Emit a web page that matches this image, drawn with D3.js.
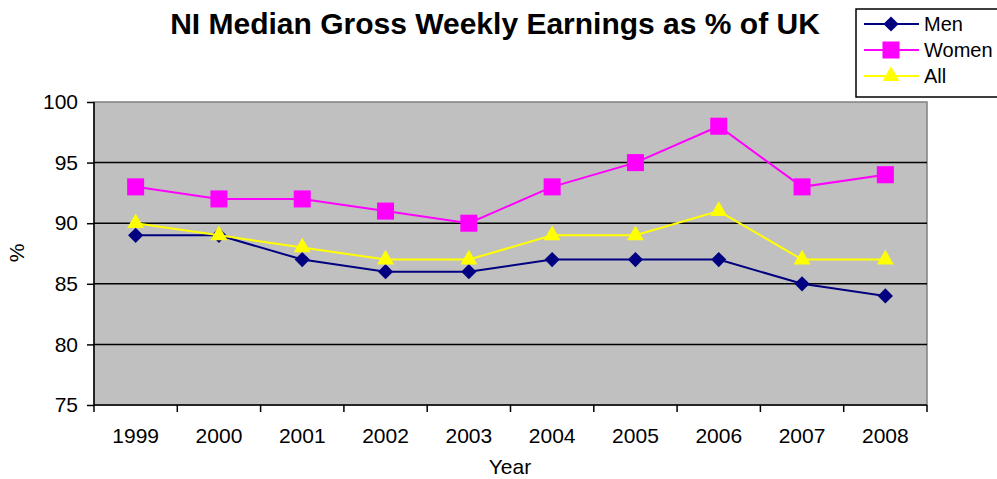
<!DOCTYPE html>
<html>
<head>
<meta charset="utf-8">
<script src="https://cdnjs.cloudflare.com/ajax/libs/d3/7.8.5/d3.min.js"></script>
<style>
  body { margin: 0; background: #fff; }
  text { font-family: "Liberation Sans", Arial, sans-serif; }
</style>
</head>
<body>
<script>
// chart data
let years = ["1999", "2000", "2001", "2002", "2003", "2004", "2005", "2006", "2007", "2008"];
let men = [89, 89, 87, 86, 86, 87, 87, 87, 85, 84];
let women = [93, 92, 92, 91, 90, 93, 95, 98, 93, 94];
let all = [90, 89, 88, 87, 87, 89, 89, 91, 87, 87];
let yTicks = [75, 80, 85, 90, 95, 100];

let width = 997, height = 479;
let plot = {left: 94, top: 102, right: 927, bottom: 405};

let svg = d3.select("body").append("svg")
    .attr("width", width)
    .attr("height", height);

let x = d3.scaleBand()
    .domain(years)
    .range([plot.left, plot.right]);

let y = d3.scaleLinear()
    .domain([75, 100])
    .range([plot.bottom, plot.top]);

// plot background
svg.append("rect")
    .attr("x", plot.left).attr("y", plot.top)
    .attr("width", plot.right - plot.left)
    .attr("height", plot.bottom - plot.top)
    .attr("fill", "#c0c0c0")
    .attr("stroke", "#808080")
    .attr("stroke-width", 1.5);

// gridlines
svg.selectAll(".grid")
    .data(yTicks.slice(1, -1))
    .enter().append("line")
    .attr("x1", plot.left).attr("x2", plot.right)
    .attr("y1", d => y(d)).attr("y2", d => y(d))
    .attr("stroke", "#000").attr("stroke-width", 1.5);

// y axis
let yAxis = svg.append("g")
    .attr("transform", "translate(" + plot.left + ",0)")
    .call(d3.axisLeft(y).tickValues(yTicks).tickSize(7).tickPadding(9));

// x axis (ticks on category boundaries)
let xAxis = svg.append("g")
    .attr("transform", "translate(0," + plot.bottom + ")")
    .call(d3.axisBottom(x).tickSize(0).tickPadding(23));

let bounds = years.map(d => x(d)).concat([plot.right]);
xAxis.selectAll(".bound")
    .data(bounds)
    .enter().append("line")
    .attr("x1", d => d).attr("x2", d => d)
    .attr("y1", 0).attr("y2", 7)
    .attr("stroke", "#000").attr("stroke-width", 1.5);

[yAxis, xAxis].forEach(g => {
    g.select(".domain").attr("stroke", "#000").attr("stroke-width", 1.5);
    g.selectAll(".tick line").attr("stroke", "#000").attr("stroke-width", 1.5);
    g.selectAll("text")
        .attr("font-family", "Liberation Sans, Arial, sans-serif")
        .attr("font-size", 21)
        .attr("fill", "#000");
});
yAxis.select(".domain").attr("d", "M0," + plot.top + "V" + plot.bottom);
xAxis.select(".domain").attr("d", "M" + plot.left + ",0H" + plot.right);

// series
let series = [
    {name: "Men", values: men, color: "#000080", shape: d3.symbolSquare, size: 115, rot: 45},
    {name: "Women", values: women, color: "#ff00ff", shape: d3.symbolSquare, size: 290, rot: 0},
    {name: "All", values: all, color: "#ffff00", shape: d3.symbolTriangle, size: 125, rot: 0}
];

let line = d3.line()
    .x((d, i) => x(years[i]) + x.bandwidth() / 2)
    .y(d => y(d));

series.forEach(s => {
    svg.append("path")
        .datum(s.values)
        .attr("fill", "none")
        .attr("stroke", s.color)
        .attr("stroke-width", 2)
        .attr("d", line);

    svg.selectAll(".m" + s.name)
        .data(s.values)
        .enter().append("path")
        .attr("transform", (d, i) => "translate(" + (x(years[i]) + x.bandwidth() / 2) + "," + y(d) + ") rotate(" + s.rot + ")")
        .attr("d", d3.symbol().type(s.shape).size(s.size))
        .attr("fill", s.color);
});

// title
svg.append("text")
    .attr("x", 495).attr("y", 34)
    .attr("text-anchor", "middle")
    .attr("font-size", 30)
    .attr("font-weight", "bold")
    .text("NI Median Gross Weekly Earnings as % of UK");

// axis titles
svg.append("text")
    .attr("x", 510).attr("y", 474)
    .attr("text-anchor", "middle")
    .attr("font-size", 21)
    .text("Year");

svg.append("text")
    .attr("transform", "translate(24,253) rotate(-90)")
    .attr("text-anchor", "middle")
    .attr("font-size", 21)
    .text("%");

// legend
let legend = svg.append("g");
legend.append("rect")
    .attr("x", 856).attr("y", 9)
    .attr("width", 150).attr("height", 88)
    .attr("fill", "#fff")
    .attr("stroke", "#000")
    .attr("stroke-width", 1.5);

series.forEach((s, i) => {
    let ly = 24 + i * 26;
    legend.append("line")
        .attr("x1", 864).attr("x2", 919)
        .attr("y1", ly).attr("y2", ly)
        .attr("stroke", s.color).attr("stroke-width", 2);
    legend.append("path")
        .attr("transform", "translate(891," + ly + ") rotate(" + s.rot + ")")
        .attr("d", d3.symbol().type(s.shape).size(s.size))
        .attr("fill", s.color);
    legend.append("text")
        .attr("x", 924).attr("y", ly + 7)
        .attr("font-size", 20)
        .text(s.name);
});
</script>
</body>
</html>
